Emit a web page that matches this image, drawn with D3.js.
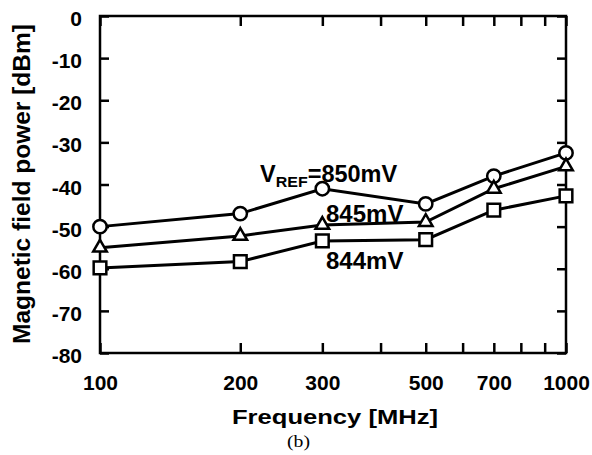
<!DOCTYPE html>
<html>
<head>
<meta charset="utf-8">
<script src="https://cdn.jsdelivr.net/npm/d3@7/dist/d3.min.js"></script>
<style>
  body { margin:0; background:#fff; }
  text { font-family:"Liberation Sans", Arial, sans-serif; font-weight:bold; fill:#000; }
</style>
</head>
<body>
<div id="chart"></div>
<script>
// frequencies in MHz
var freqs = [100, 200, 300, 500, 700, 1000];
// magnetic field power [dBm] per VREF
var v850 = [-50, -46.9, -41, -44.6, -38, -32.5];
var v845 = [-55, -52.2, -49.6, -48.9, -41, -35.7];
var v844 = [-59.8, -58.3, -53.4, -53.1, -46.1, -42.7];

var xTicks = [100, 200, 300, 400, 500, 600, 700, 800, 900, 1000];
var xLabels = [100, 200, 300, 500, 700, 1000];
var yTicks = [0, -10, -20, -30, -40, -50, -60, -70, -80];

var width = 592, height = 455;
var pL = 100, pR = 566, pT = 16, pB = 353;

var svg = d3.select("#chart").append("svg")
  .attr("width", width).attr("height", height);

var x = d3.scaleLog().domain([100, 1000]).range([pL, pR]);
var y = d3.scaleLinear().domain([-80, 0]).range([pB, pT]);

function styleAxis(g){
  g.select(".domain").remove();
  g.selectAll(".tick line").attr("stroke", "#000").attr("stroke-width", 2.5);
}

// bottom axis with labels
svg.append("g")
  .attr("transform", "translate(0," + pB + ")")
  .call(d3.axisBottom(x).tickValues(xTicks).tickSize(-10).tickPadding(22)
    .tickFormat(function(d){ return xLabels.indexOf(d) >= 0 ? String(d) : ""; }))
  .call(styleAxis)
  .selectAll("text").style("font-size", "21px");

// top axis, ticks only
svg.append("g")
  .attr("transform", "translate(0," + pT + ")")
  .call(d3.axisTop(x).tickValues(xTicks).tickSize(-10).tickFormat(""))
  .call(styleAxis);

// left axis with labels (plain hyphen minus like the original)
var ya = svg.append("g")
  .attr("transform", "translate(" + pL + ",0)")
  .call(d3.axisLeft(y).tickValues(yTicks).tickSize(-9).tickPadding(18)
    .tickFormat(function(d){ return String(d); }))
  .call(styleAxis);
ya.selectAll("text").style("font-size", "21px").attr("dy", "9.5");

// right axis, ticks only
svg.append("g")
  .attr("transform", "translate(" + pR + ",0)")
  .call(d3.axisRight(y).tickValues(yTicks).tickSize(-9).tickFormat(""))
  .call(styleAxis);

// frame
svg.append("rect")
  .attr("x", pL).attr("y", pT)
  .attr("width", pR - pL).attr("height", pB - pT)
  .attr("fill", "none").attr("stroke", "#000").attr("stroke-width", 2.5);

var series = [
  { vals: v850, sym: d3.symbolCircle, size: 140 },
  { vals: v845, sym: d3.symbolTriangle, size: 80 },
  { vals: v844, sym: d3.symbolSquare, size: 160 }
];

var line = d3.line()
  .x(function(d){ return x(d[0]); })
  .y(function(d){ return y(d[1]); });

series.forEach(function(s){
  var pts = d3.zip(freqs, s.vals);
  svg.append("path")
    .attr("d", line(pts))
    .attr("fill", "none").attr("stroke", "#000").attr("stroke-width", 3);
});

series.forEach(function(s){
  var pts = d3.zip(freqs, s.vals);
  svg.selectAll(null).data(pts).enter().append("path")
    .attr("d", d3.symbol().type(s.sym).size(s.size))
    .attr("transform", function(d){ return "translate(" + x(d[0]) + "," + y(d[1]) + ")"; })
    .attr("fill", "#fff").attr("stroke", "#000").attr("stroke-width", 2.5);
});

// series labels
var lab = svg.append("text").attr("x", 260).attr("y", 182).style("font-size", "23.5px");
lab.append("tspan").text("V");
lab.append("tspan").attr("dy", 5).style("font-size", "15px")
  .attr("textLength", 32).attr("lengthAdjust", "spacingAndGlyphs").text("REF");
lab.append("tspan").attr("dy", -5).text("=850mV");

svg.append("text").attr("x", 326).attr("y", 221.5).style("font-size", "24px").text("845mV");
svg.append("text").attr("x", 326).attr("y", 268.5).style("font-size", "24px").text("844mV");

// axis titles
svg.append("text")
  .attr("transform", "translate(29.5," + 184 + ") rotate(-90)")
  .attr("text-anchor", "middle")
  .style("font-size", "24.5px")
  .text("Magnetic field power [dBm]");

svg.append("text")
  .attr("x", 232).attr("y", 423.5)
  .attr("textLength", 206).attr("lengthAdjust", "spacingAndGlyphs")
  .style("font-size", "21px")
  .text("Frequency [MHz]");

svg.append("text")
  .attr("x", 287).attr("y", 447)
  .attr("textLength", 23).attr("lengthAdjust", "spacingAndGlyphs")
  .style("font-family", "'Liberation Serif', 'Times New Roman', serif")
  .style("font-weight", "normal")
  .style("font-size", "16px")
  .text("(b)");
</script>
</body>
</html>
